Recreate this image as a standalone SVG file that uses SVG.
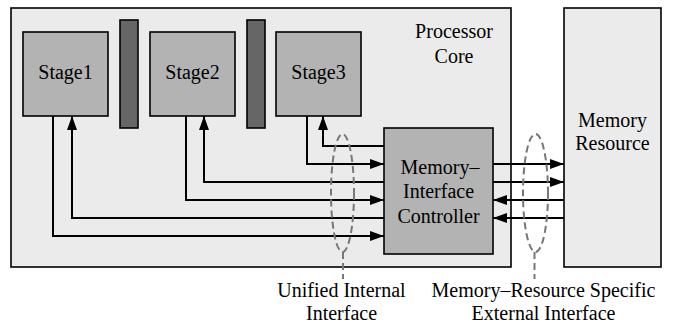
<svg xmlns="http://www.w3.org/2000/svg" width="678" height="325" viewBox="0 0 678 325">
  <style>
    .outer { fill: #ebebeb; stroke: #000; stroke-width: 1.6; }
    .stage { fill: #b3b3b3; stroke: #000; stroke-width: 1.6; }
    .reg { fill: #666666; stroke: #000; stroke-width: 1.6; }
    .lbl { font-family: 'Liberation Serif', 'Times New Roman', Times, serif; font-size: 20px; fill: #000; text-anchor: middle; }
    .wire { fill: none; stroke: #000; stroke-width: 2; }
    .bus { fill: none; stroke: #777777; stroke-width: 2; stroke-dasharray: 7 4; }
  </style>
  <defs>
    <marker id="arrow" markerUnits="userSpaceOnUse" markerWidth="15" markerHeight="11" refX="14" refY="5" orient="auto">
      <path d="M0,0 L14,5 L0,10 Z" fill="#000"/>
    </marker>
  </defs>

  <g id="processor-core">
    <rect class="outer" x="11" y="8" width="500" height="259"/>
    <text class="lbl" x="454" y="38">Processor</text>
    <text class="lbl" x="454" y="63">Core</text>
  </g>

  <g id="memory-resource">
    <rect class="outer" x="564" y="8" width="97" height="259"/>
    <text class="lbl" x="612.5" y="126.5">Memory</text>
    <text class="lbl" x="612.5" y="150">Resource</text>
  </g>

  <g id="stage1">
    <rect class="stage" x="23" y="32" width="85" height="84"/>
    <text class="lbl" x="65.5" y="79">Stage1</text>
  </g>
  <g id="reg1">
    <rect class="reg" x="120" y="20" width="18" height="108"/>
  </g>
  <g id="stage2">
    <rect class="stage" x="150" y="32" width="85" height="84"/>
    <text class="lbl" x="192.5" y="79">Stage2</text>
  </g>
  <g id="reg2">
    <rect class="reg" x="247" y="20" width="18" height="108"/>
  </g>
  <g id="stage3">
    <rect class="stage" x="276" y="32" width="85" height="84"/>
    <text class="lbl" x="318.5" y="79">Stage3</text>
  </g>

  <g id="controller">
    <rect class="stage" x="384" y="128" width="109" height="126"/>
    <text class="lbl" x="440" y="173.5">Memory–</text>
    <text class="lbl" x="438.5" y="198">Interface</text>
    <text class="lbl" x="438.5" y="222.5">Controller</text>
  </g>

  <g id="connectors">
    <!-- stage outputs into the controller -->
    <polyline class="wire" points="53,116 53,236 384,236" marker-end="url(#arrow)"/>
    <polyline class="wire" points="186,116 186,200 384,200" marker-end="url(#arrow)"/>
    <polyline class="wire" points="307,116 307,164 384,164" marker-end="url(#arrow)"/>
    <!-- controller responses back to the stages -->
    <polyline class="wire" points="384,218 72,218 72,116" marker-end="url(#arrow)"/>
    <polyline class="wire" points="384,182 204,182 204,116" marker-end="url(#arrow)"/>
    <polyline class="wire" points="384,146 323,146 323,116" marker-end="url(#arrow)"/>
    <!-- external interface -->
    <line class="wire" x1="493" y1="164" x2="564" y2="164" marker-end="url(#arrow)"/>
    <line class="wire" x1="493" y1="182" x2="564" y2="182" marker-end="url(#arrow)"/>
    <line class="wire" x1="564" y1="200" x2="493" y2="200" marker-end="url(#arrow)"/>
    <line class="wire" x1="564" y1="218" x2="493" y2="218" marker-end="url(#arrow)"/>
  </g>

  <g id="internal-interface">
    <ellipse class="bus" cx="342.5" cy="193" rx="11.5" ry="59"/>
    <line class="bus" x1="343" y1="252" x2="343" y2="279"/>
    <text class="lbl" x="341.5" y="297">Unified Internal</text>
    <text class="lbl" x="341.5" y="320">Interface</text>
  </g>

  <g id="external-interface">
    <ellipse class="bus" cx="535.5" cy="193" rx="12.5" ry="59"/>
    <line class="bus" x1="534.5" y1="252" x2="534.5" y2="279"/>
    <text class="lbl" x="543.5" y="297">Memory–Resource Specific</text>
    <text class="lbl" x="543.5" y="320">External Interface</text>
  </g>
</svg>
